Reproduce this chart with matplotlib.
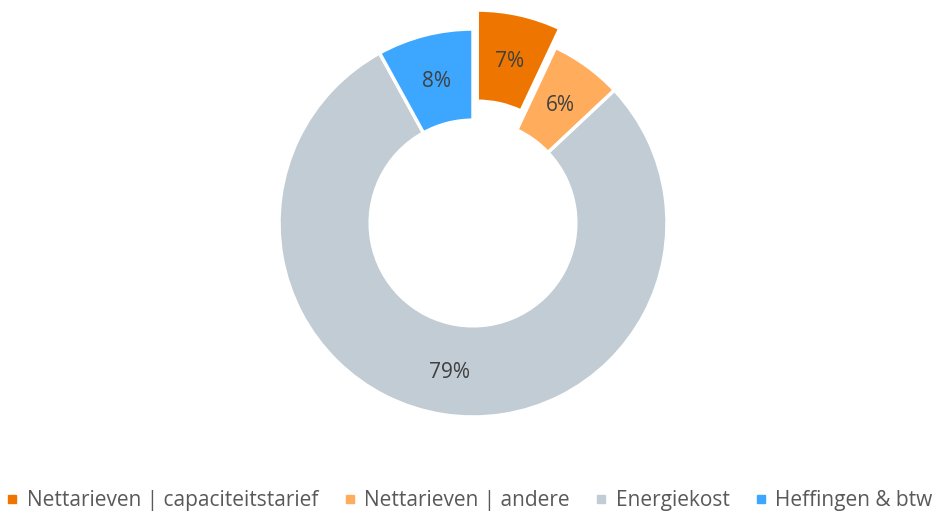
import matplotlib.pyplot as plt
from matplotlib.lines import Line2D

plt.rcParams['font.family'] = ['Open Sans', 'DejaVu Sans']

labels = ['Nettarieven | capaciteitstarief', 'Nettarieven | andere',
          'Energiekost', 'Heffingen & btw']
values = [7, 6, 79, 8]
colors = ['#EE7600', '#FFAC5C', '#C1CCD5', '#3DA7FF']
explode = [0.1, 0, 0, 0]

fig = plt.figure(figsize=(9.48, 5.13), dpi=100)

# axes sized so that radius 1 = ~194 px, centred at (473, 223) from top
lim = 1.2
side = 2 * lim * 194
ax = fig.add_axes([(473 - side / 2) / 948, (290 - side / 2) / 513,
                   side / 948, side / 513])

wedges, texts, autotexts = ax.pie(
    values, colors=colors, explode=explode, startangle=90, counterclock=False,
    autopct='%1.0f%%', pctdistance=0.765,
    wedgeprops=dict(width=0.47, edgecolor='white', linewidth=2.5),
    textprops=dict(color='#404040', fontsize=15))
for t in autotexts:
    t.set_va('center_baseline')
ax.set_xlim(-lim, lim)
ax.set_ylim(-lim, lim)
ax.set_aspect('equal')
ax.axis('off')

handles = [Line2D([], [], marker='s', linestyle='none', color=c, markersize=6)
           for c in colors]
fig.legend(handles, labels, loc='lower left', ncol=4, frameon=False,
           bbox_to_anchor=(4 / 948, 0.0), borderpad=0, borderaxespad=0.1,
           fontsize=15, labelcolor='#595959',
           handlelength=0.6, handletextpad=0.4, columnspacing=1.2)

fig.savefig('out.png', dpi=100)
